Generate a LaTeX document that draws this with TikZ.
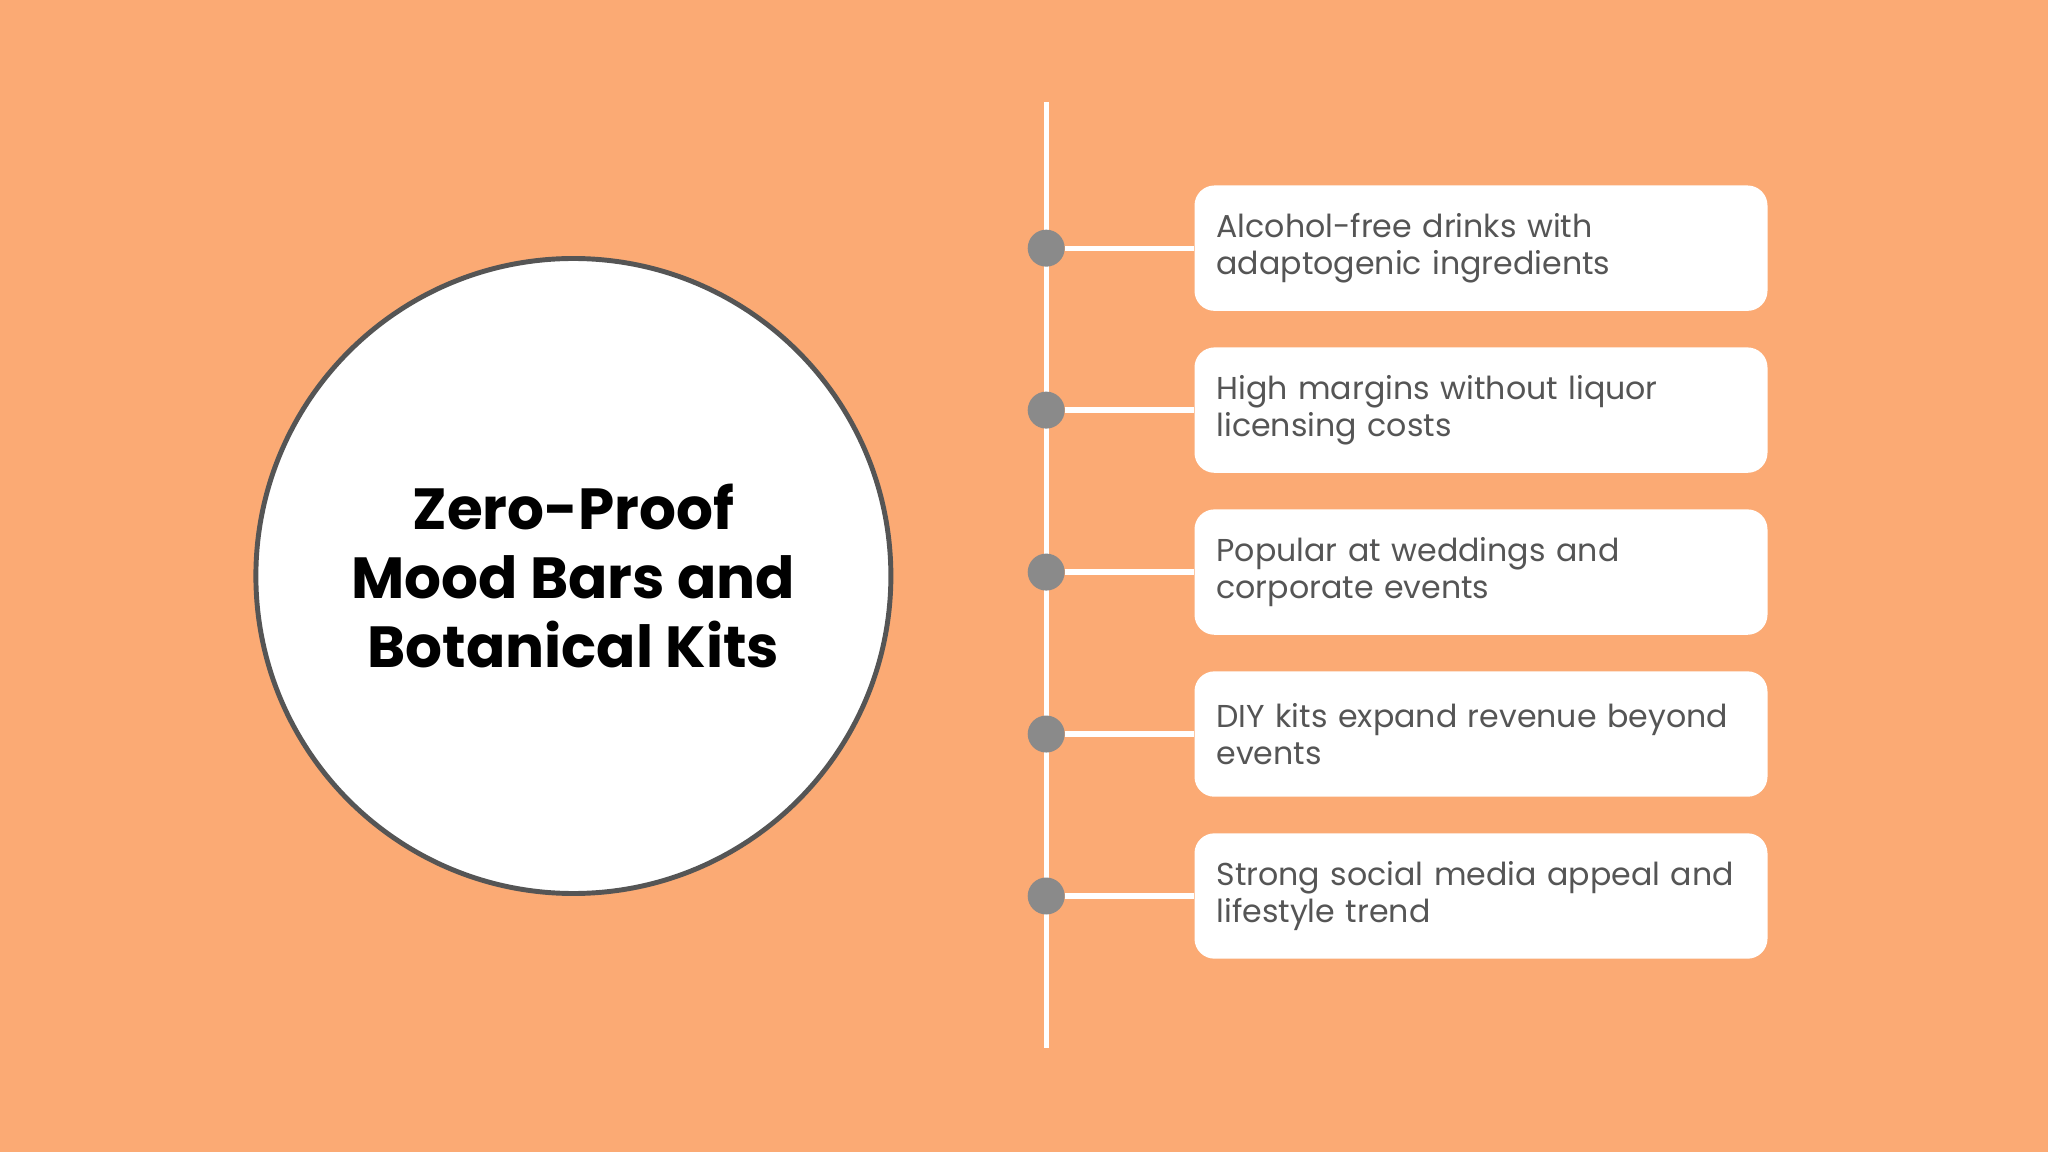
\documentclass[tikz,border=0pt]{standalone}
\usepackage{fontspec}
\usepackage[none]{hyphenat}
\setmainfont{Poppins}
\usetikzlibrary{positioning}
\definecolor{bgpeach}{HTML}{FBAA74}
\definecolor{ringgray}{HTML}{555555}
\definecolor{dotgray}{HTML}{8A8A8A}
\definecolor{txtgray}{HTML}{555555}
\begin{document}
\begin{tikzpicture}[x=0.01306cm, y=-0.01306cm,
  card/.style={draw=none, fill=white, rounded corners=0.2cm, minimum width=5.73cm, minimum height=1.254cm, text width=5.29cm, align=left, inner xsep=0.22cm, anchor=west, text=txtgray, font=\fontsize{9}{10.6}\selectfont},
  dot/.style={circle, fill=dotgray, minimum size=0.37cm, inner sep=0pt},
  stem/.style={white, line width=1.5pt}
  ]
  \useasboundingbox (0,0) rectangle (1568,882);
  \fill[bgpeach] (0,0) rectangle (1568,882);
  \node[circle, draw=ringgray, line width=1.4pt, fill=white, minimum size=6.35cm, inner sep=0pt] (hub) at (439,441) {};
  \node[align=center, font=\fontsize{16.5}{19.5}\selectfont\bfseries] (title) at (439,441) {Zero-Proof\\Mood Bars and\\Botanical Kits};
  \coordinate (top) at (801,78);
  \coordinate (bot) at (801,802);
  \draw[stem] (top) -- (bot);
  \foreach \i/\y/\t in {1/190/{Alcohol-free drinks with adaptogenic ingredients},
                         2/314/{High margins without liquor licensing costs},
                         3/438/{Popular at weddings and corporate events},
                         4/562/{DIY kits expand revenue beyond events},
                         5/686/{Strong social media appeal and lifestyle trend}} {
    \node[card] (c\i) at (914,\y) {\t};
    \node[dot] (d\i) at (801,\y) {};
    \draw[stem] (d\i) -- (c\i.west);
  }
\end{tikzpicture}
\end{document}
